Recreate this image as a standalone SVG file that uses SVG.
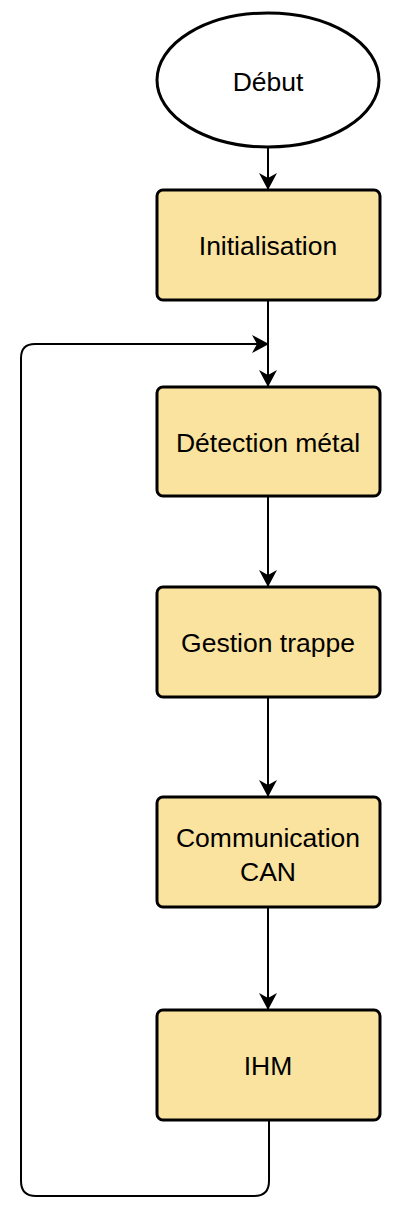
<svg xmlns="http://www.w3.org/2000/svg" width="408" height="1214" viewBox="0 0 408 1214">
<style>
.box{fill:#FAE39E;stroke:#000;stroke-width:3}
.t{font-family:"Liberation Sans",Arial,sans-serif;font-size:26.5px;fill:#000;text-anchor:middle}
.c{fill:none;stroke:#000;stroke-width:2}
</style>
<defs>
<marker id="a" viewBox="0 0 17 18" refX="16" refY="9" markerWidth="17" markerHeight="18" markerUnits="userSpaceOnUse" orient="auto">
<path d="M0,0 L17,9 L0,18 L5,9 Z" fill="#000"/>
</marker>
</defs>
<rect width="408" height="1214" fill="#fff"/>
<g id="connectors">
<path class="c" d="M268,148 V189" marker-end="url(#a)"/>
<path class="c" d="M268,300 V386" marker-end="url(#a)"/>
<path class="c" d="M268,496 V586" marker-end="url(#a)"/>
<path class="c" d="M268,697 V796" marker-end="url(#a)"/>
<path class="c" d="M268,907 V1009" marker-end="url(#a)"/>
<path class="c" d="M269,1120 V1181 Q269,1196 254,1196 H36 Q21,1196 21,1181 V358 Q21,344 35,344 H268" marker-end="url(#a)"/>
</g>
<g id="debut">
<ellipse cx="268" cy="80" rx="111" ry="67" fill="#fff" stroke="#000" stroke-width="3"/>
<text class="t" x="268" y="91">Début</text>
</g>
<g id="init">
<rect class="box" x="157" y="190" width="223" height="110" rx="6"/>
<text class="t" x="268" y="255">Initialisation</text>
</g>
<g id="detection">
<rect class="box" x="157" y="387" width="223" height="109" rx="6"/>
<text class="t" x="268" y="452">Détection métal</text>
</g>
<g id="gestion">
<rect class="box" x="157" y="587" width="223" height="110" rx="6"/>
<text class="t" x="268" y="652">Gestion trappe</text>
</g>
<g id="comm">
<rect class="box" x="157" y="797" width="223" height="110" rx="6"/>
<text class="t" x="268" y="847">Communication</text>
<text class="t" x="268" y="881">CAN</text>
</g>
<g id="ihm">
<rect class="box" x="157" y="1010" width="223" height="110" rx="6"/>
<text class="t" x="268" y="1075">IHM</text>
</g>
</svg>
